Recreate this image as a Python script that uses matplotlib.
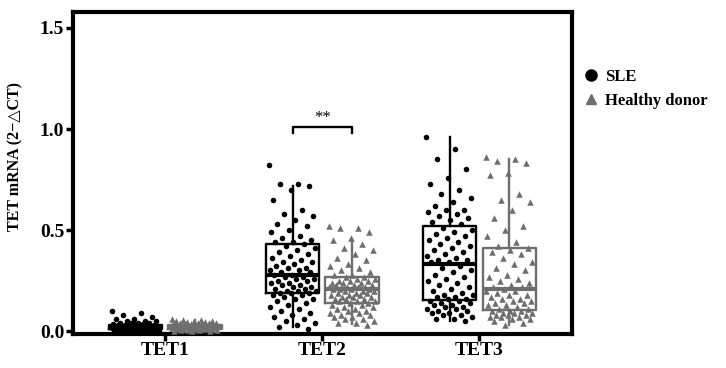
import matplotlib
matplotlib.use("Agg")
import matplotlib.pyplot as plt
import numpy as np
from matplotlib.lines import Line2D

plt.rcParams["font.family"] = ["Liberation Serif", "DejaVu Sans"]
plt.rcParams["font.weight"] = "bold"

genes = ["TET1", "TET2", "TET3"]
groups = ["SLE", "Healthy donor"]

# individual samples
sle_tet1 = [0.10, 0.09, 0.08, 0.07, 0.06, 0.06, 0.05, 0.05, 0.05, 0.04, 0.04, 0.04,
            0.04, 0.035, 0.035, 0.03, 0.03, 0.03, 0.03, 0.03, 0.028, 0.026, 0.025,
            0.025, 0.024, 0.022, 0.02, 0.02, 0.02, 0.02, 0.018, 0.018, 0.016, 0.015,
            0.015, 0.014, 0.013, 0.012, 0.012, 0.011, 0.01, 0.01, 0.01, 0.009, 0.008,
            0.008, 0.007, 0.006, 0.006, 0.005, 0.005, 0.004, 0.004, 0.003, 0.003,
            0.002, 0.002, 0.001, 0.001, 0.0]
hd_tet1 = [0.06, 0.055, 0.055, 0.05, 0.05, 0.048, 0.045, 0.045, 0.042, 0.04, 0.04,
           0.038, 0.036, 0.035, 0.034, 0.032, 0.03, 0.03, 0.028, 0.027, 0.026, 0.025,
           0.024, 0.023, 0.022, 0.021, 0.02, 0.02, 0.019, 0.018, 0.017, 0.016, 0.015,
           0.014, 0.013, 0.012, 0.011, 0.01, 0.01, 0.009, 0.008, 0.007, 0.006, 0.005,
           0.004, 0.003, 0.002, 0.001]
sle_tet2 = [0.82, 0.73, 0.73, 0.72, 0.70, 0.65, 0.60, 0.58, 0.57, 0.55, 0.53, 0.52,
            0.50, 0.49, 0.47, 0.46, 0.45, 0.44, 0.44, 0.43,
            0.42, 0.41, 0.40, 0.39, 0.38, 0.37, 0.36, 0.35, 0.34, 0.34, 0.33, 0.32,
            0.31, 0.31, 0.30, 0.30, 0.29, 0.29, 0.28, 0.28,
            0.27, 0.27, 0.26, 0.26, 0.25, 0.25, 0.24, 0.24, 0.23, 0.23, 0.22, 0.22,
            0.21, 0.21, 0.20, 0.20, 0.20, 0.19, 0.19, 0.19,
            0.18, 0.18, 0.17, 0.16, 0.16, 0.15, 0.14, 0.13, 0.12, 0.11, 0.10, 0.09,
            0.08, 0.07, 0.06, 0.05, 0.04, 0.03, 0.02, 0.01]
hd_tet2 = [0.52, 0.51, 0.51, 0.49, 0.46, 0.45, 0.43, 0.41, 0.40, 0.38, 0.36, 0.35,
           0.33, 0.32, 0.31, 0.30, 0.29, 0.28, 0.28, 0.27,
           0.27, 0.26, 0.26, 0.25, 0.25, 0.25, 0.24, 0.24, 0.24, 0.23, 0.23, 0.23,
           0.22, 0.22, 0.22, 0.22, 0.21, 0.21, 0.21, 0.21,
           0.20, 0.20, 0.20, 0.19, 0.19, 0.19, 0.18, 0.18, 0.18, 0.17, 0.17, 0.17,
           0.16, 0.16, 0.16, 0.15, 0.15, 0.15, 0.14, 0.14,
           0.13, 0.13, 0.12, 0.12, 0.11, 0.11, 0.10, 0.10, 0.09, 0.09, 0.08, 0.08,
           0.07, 0.07, 0.06, 0.06, 0.05, 0.04, 0.04, 0.03]
sle_tet3 = [0.96, 0.90, 0.85, 0.80, 0.76, 0.73, 0.70, 0.68, 0.66, 0.64, 0.62, 0.60,
            0.60, 0.59, 0.58, 0.57, 0.56, 0.55, 0.54, 0.53,
            0.51, 0.50, 0.49, 0.48, 0.47, 0.46, 0.45, 0.44, 0.43, 0.42, 0.41, 0.40,
            0.39, 0.38, 0.37, 0.36, 0.35, 0.35, 0.34, 0.34,
            0.32, 0.31, 0.30, 0.29, 0.28, 0.27, 0.26, 0.25, 0.24, 0.23, 0.22, 0.21,
            0.20, 0.19, 0.18, 0.18, 0.17, 0.17, 0.16, 0.16,
            0.15, 0.15, 0.14, 0.14, 0.13, 0.13, 0.12, 0.12, 0.11, 0.11, 0.10, 0.10,
            0.09, 0.09, 0.08, 0.08, 0.07, 0.06, 0.06, 0.05]
hd_tet3 = [0.86, 0.85, 0.84, 0.83, 0.78, 0.77, 0.68, 0.65, 0.64, 0.60, 0.56, 0.52,
           0.50, 0.47, 0.44, 0.42, 0.41,
           0.40, 0.39, 0.38, 0.36, 0.34, 0.33, 0.31, 0.30, 0.28, 0.27, 0.26, 0.25,
           0.24, 0.23, 0.22, 0.22, 0.21,
           0.20, 0.20, 0.19, 0.18, 0.18, 0.17, 0.16, 0.16, 0.15, 0.15, 0.14, 0.14,
           0.13, 0.13, 0.12, 0.11, 0.11,
           0.10, 0.10, 0.10, 0.09, 0.09, 0.09, 0.08, 0.08, 0.08, 0.07, 0.07, 0.07,
           0.06, 0.06, 0.05, 0.04, 0.03]

sle_points = [sle_tet1, sle_tet2, sle_tet3]
hd_points = [hd_tet1, hd_tet2, hd_tet3]

# box summaries as drawn in the figure
sle_q1 = [0.010, 0.19, 0.155]
sle_med = [0.020, 0.28, 0.33]
sle_q3 = [0.030, 0.43, 0.52]
sle_lo = [0.000, 0.02, 0.05]
sle_hi = [0.060, 0.72, 0.96]
hd_q1 = [0.012, 0.14, 0.105]
hd_med = [0.020, 0.21, 0.21]
hd_q3 = [0.030, 0.27, 0.41]
hd_lo = [0.000, 0.035, 0.03]
hd_hi = [0.055, 0.45, 0.85]

SLE_COLOR = "black"
HD_COLOR = "#6e6e6e"
offset = 0.19
box_w = 0.34

fig = plt.figure(figsize=(7.26, 3.68), dpi=100)
ax = fig.add_axes([0.100, 0.092, 0.688, 0.876])


def draw_group(pos, q1, med, q3, lo, hi, pts, color, marker, msize):
    stats = []
    for i in range(len(pos)):
        stats.append(dict(q1=q1[i], med=med[i], q3=q3[i], whislo=lo[i],
                          whishi=hi[i], fliers=[]))
    ax.bxp(stats, positions=pos, widths=box_w, showcaps=False,
           boxprops=dict(color=color, linewidth=1.7),
           whiskerprops=dict(color=color, linewidth=1.7),
           medianprops=dict(color=color, linewidth=3.0),
           manage_ticks=False, zorder=2)
    for i, vals in enumerate(pts):
        n = len(vals)
        jit = ((np.arange(n) * 0.618034) % 1 - 0.5) * 0.30
        ax.scatter(pos[i] + jit, vals, s=msize, color=color, marker=marker,
                   linewidths=0, zorder=3)


base = np.arange(1, len(genes) + 1)
draw_group(base - offset, sle_q1, sle_med, sle_q3, sle_lo, sle_hi, sle_points,
           SLE_COLOR, "o", 16)
draw_group(base + offset, hd_q1, hd_med, hd_q3, hd_lo, hd_hi, hd_points,
           HD_COLOR, "^", 22)

# significance bracket
by = 1.01
ax.plot([2 - offset, 2 - offset, 2 + offset, 2 + offset],
        [by - 0.03, by, by, by - 0.03], color="black", lw=1.7)
ax.text(2, by + 0.005, "**", ha="center", va="bottom", fontsize=12,
        fontweight="normal")

ax.set_xlim(0.41, 3.59)
ax.set_ylim(-0.015, 1.58)
ax.set_xticks(base)
ax.set_xticklabels(genes, fontsize=14, fontweight="bold")
ax.set_yticks([0.0, 0.5, 1.0, 1.5])
ax.set_yticklabels(["0.0", "0.5", "1.0", "1.5"], fontsize=14, fontweight="bold")
ax.tick_params(width=2.5, length=5, pad=1)
for s in ax.spines.values():
    s.set_linewidth(3.0)
ax.set_ylabel("TET mRNA (2\u2212\u25b3CT)", fontsize=11.5, fontweight="bold")
ax.yaxis.set_label_coords(-0.098, 0.55)

handles = [
    Line2D([], [], marker="o", color=SLE_COLOR, linestyle="none", markersize=8),
    Line2D([], [], marker="^", color=HD_COLOR, linestyle="none", markersize=7),
]
fig.legend(handles, groups, loc="upper left", bbox_to_anchor=(0.781, 0.853),
           frameon=False, prop=dict(weight="bold", size=12),
           handletextpad=0.3, labelspacing=0.45, handlelength=1.1)

plt.savefig("out.png", dpi=100)
